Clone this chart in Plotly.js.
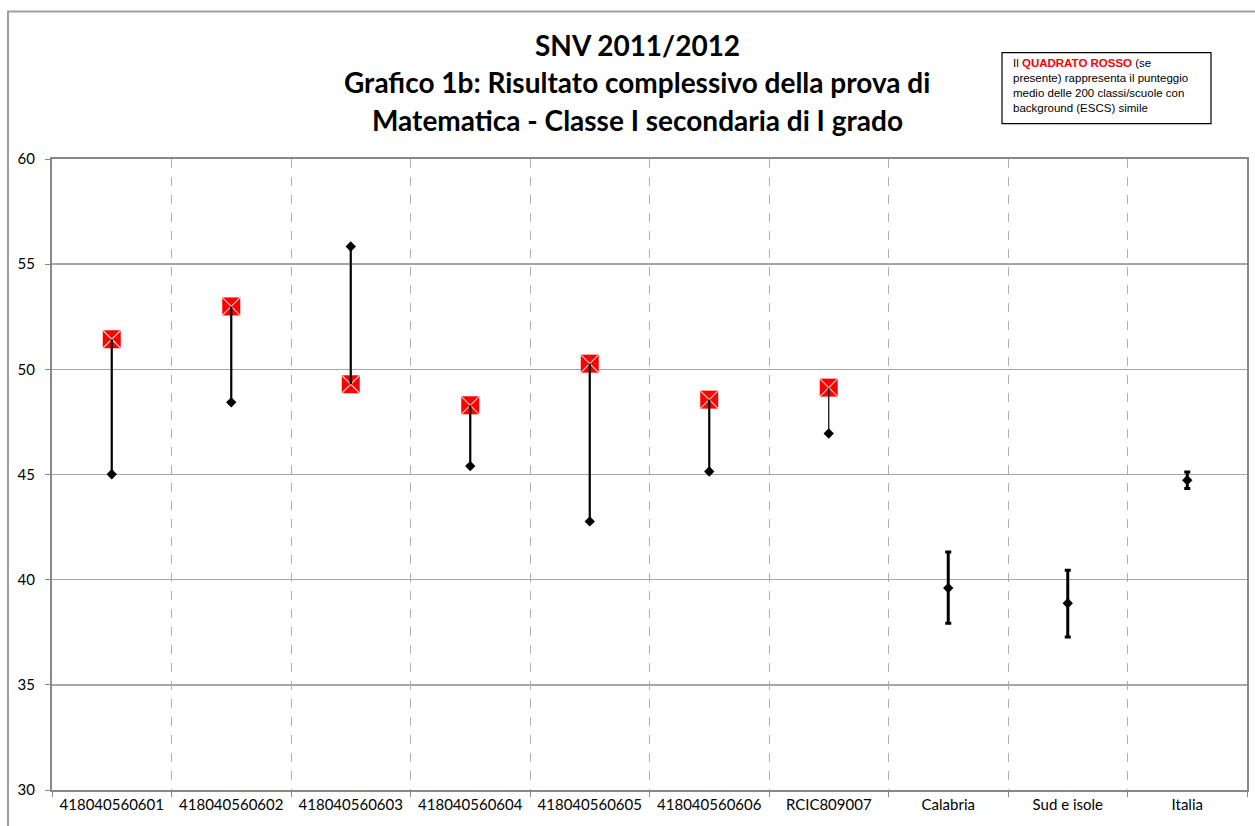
<!DOCTYPE html>
<html>
<head>
<meta charset="utf-8">
<script src="https://cdn.plot.ly/plotly-3.0.1.min.js"></script>
<style>html,body{margin:0;padding:0;background:#fff;}#chart{width:1255px;height:826px;}</style>
</head>
<body>
<div id="chart"></div>
<script>
// ---- data ----
const categories = ['418040560601','418040560602','418040560603','418040560604','418040560605','418040560606','RCIC809007','Calabria','Sud e isole','Italia'];
const schoolCats = categories.slice(0, 7);
const schoolScore = [45.01, 48.43, 55.84, 45.40, 42.77, 45.14, 46.95];   // black diamonds
const similarScore = [51.43, 52.99, 49.29, 48.29, 50.27, 48.56, 49.13]; // red squares
const refCats = ['Calabria','Sud e isole','Italia'];
const refScore = [39.60, 38.88, 44.73];
const refUpper = [41.31, 40.45, 45.12];
const refLower = [37.93, 37.27, 44.33];
const yTicks = [30, 35, 40, 45, 50, 55, 60];

// ---- build traces ----
const thickX = [], thickY = [], thinX = [], thinY = [];
schoolCats.forEach((c, i) => {
  const tx = (c === 'RCIC809007') ? thinX : thickX;
  const ty = (c === 'RCIC809007') ? thinY : thickY;
  tx.push(c, c, null); ty.push(schoolScore[i], similarScore[i], null);
});

const traces = [
  {x: schoolCats, y: similarScore, type: 'scatter', mode: 'markers', hoverinfo: 'skip',
   marker: {symbol: 'square', size: 18, color: '#ff0000', line: {width: 0}}},
  {x: schoolCats, y: similarScore, type: 'scatter', mode: 'markers', hoverinfo: 'skip',
   marker: {symbol: 'x-thin', size: 18, color: '#ffc0c0', line: {width: 1.2, color: '#ffc8c8'}}},
  {x: thickX, y: thickY, type: 'scatter', mode: 'lines', line: {color: '#000', width: 2.2}, hoverinfo: 'skip'},
  {x: thinX, y: thinY, type: 'scatter', mode: 'lines', line: {color: '#000', width: 1.2}, hoverinfo: 'skip'},
  {x: schoolCats, y: schoolScore, type: 'scatter', mode: 'markers',
   marker: {symbol: 'diamond', size: 8, color: '#000'}},
  {x: refCats, y: refScore, type: 'scatter', mode: 'markers',
   marker: {symbol: 'diamond', size: 8, color: '#000'},
   error_y: {type: 'data', symmetric: false,
     array: refUpper.map((u, i) => u - refScore[i]),
     arrayminus: refScore.map((v, i) => v - refLower[i]),
     color: '#000', thickness: 3, width: 3}}
];

// pixel helpers for paper coordinates
const L = 52, R = 1247, T = 158.5, B = 790;
const px = p => (p - L) / (R - L);
const py = p => (B - p) / (B - T);

const titleFont = {family: 'Lato, "Open Sans", sans-serif', size: 28, color: '#000'};
const titleLines = [['<b>SNV 2011/2012</b>', 44], ['<b>Grafico 1b: Risultato complessivo della prova di</b>', 81], ['<b>Matematica - Classe I secondaria di I grado</b>', 119]];

const annotations = titleLines.map(t => ({
  text: t[0], xref: 'paper', yref: 'paper', x: px(637), y: py(t[1]),
  xanchor: 'center', yanchor: 'middle', showarrow: false, font: titleFont
}));
annotations.push({
  text: 'Il <span style="color:#ff0000"><b>QUADRATO ROSSO</b></span> (se<br>presente) rappresenta il punteggio<br>medio delle 200 classi/scuole con<br>background (ESCS) simile',
  xref: 'paper', yref: 'paper', x: px(1012), y: py(55), xanchor: 'left', yanchor: 'top',
  align: 'left', showarrow: false, borderpad: 0,
  font: {family: '"Liberation Sans", Arial, sans-serif', size: 11.5, color: '#000'}
});

const layout = {
  width: 1255, height: 826,
  margin: {l: L, r: 1255 - R, t: T, b: 826 - B, pad: 0},
  paper_bgcolor: '#fff', plot_bgcolor: '#fff',
  showlegend: false,
  xaxis: {type: 'category', categoryorder: 'array', categoryarray: categories,
    range: [-0.5, 9.5], tickson: 'boundaries', ticks: 'outside', ticklen: 5, tickcolor: '#888',
    showgrid: true, gridcolor: '#b0b0b0', griddash: 'dash', gridwidth: 1,
    showline: true, linecolor: '#888', linewidth: 2, mirror: true,
    tickfont: {family: 'Lato, sans-serif', size: 15, color: '#000'}, fixedrange: true},
  yaxis: {range: [30, 60], tickvals: yTicks, ticks: 'outside', ticklen: 5, tickcolor: '#888',
    showgrid: true, gridcolor: '#a6a6a6', gridwidth: 1.4, zeroline: false,
    showline: true, linecolor: '#888', linewidth: 2, mirror: true,
    ticklabelstandoff: 7,
    tickfont: {family: 'Lato, sans-serif', size: 15, color: '#000'}, fixedrange: true},
  annotations: annotations,
  shapes: [
    {type: 'rect', xref: 'paper', yref: 'paper', x0: px(8), y0: py(840), x1: px(1270), y1: py(11),
     line: {color: '#a0a0a0', width: 2}, fillcolor: 'rgba(0,0,0,0)', layer: 'below'},
    {type: 'rect', xref: 'paper', yref: 'paper', x0: px(1002), y0: py(123), x1: px(1211), y1: py(52),
     line: {color: '#000', width: 1.2}, fillcolor: '#fff', layer: 'below'}
  ]
};

Plotly.newPlot('chart', traces, layout, {displayModeBar: false, staticPlot: true});
</script>
</body>
</html>
